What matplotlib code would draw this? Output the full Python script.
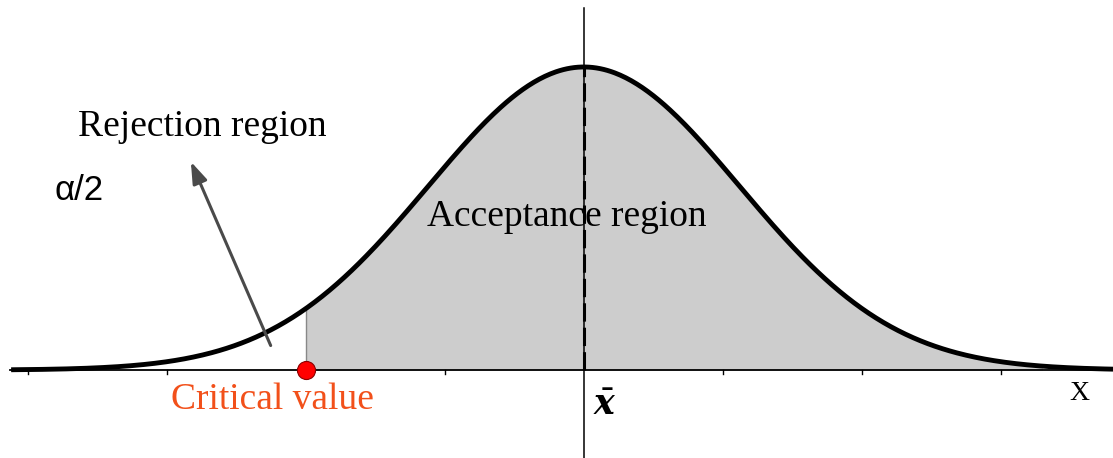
import matplotlib
matplotlib.use('Agg')
import matplotlib.pyplot as plt
import numpy as np

# distribution parameters (axis units: one tick = one unit, mean at 0)
MEAN = 0.0
SIGMA = 1.12
CRITICAL = -2.0
SHADE_END = 3.3
TICKS = [-4, -3, -2, -1, 1, 2, 3]

LABEL_REJECT = 'Rejection region'
LABEL_ALPHA = 'α/2'
LABEL_ACCEPT = 'Acceptance region'
LABEL_CRIT = 'Critical value'
LABEL_X = 'X'

plt.rcParams['mathtext.fontset'] = 'custom'
plt.rcParams['mathtext.it'] = 'DejaVu Serif:italic:bold'


def curve(x):
    return np.exp(-0.5 * ((x - MEAN) / SIGMA) ** 2)


fig = plt.figure(figsize=(11.13, 4.58), dpi=100)
ax = fig.add_axes([0, 0, 1, 1])
ax.set_xlim(-4.20, 3.806)
ax.set_ylim(-0.29, 1.221)
ax.axis('off')

xs = np.linspace(-4.12, 3.81, 600)
ax.plot(xs, curve(xs), color='black', lw=3.5, zorder=4, solid_capstyle='butt')

xf = np.linspace(CRITICAL, SHADE_END, 400)
ax.fill_between(xf, 0, curve(xf), color='#cdcdcd', lw=0, zorder=1)
ax.plot([CRITICAL, CRITICAL], [0, curve(CRITICAL)], color='#888888', lw=1, zorder=2)

# axes
ax.plot([-4.13, 3.81], [0, 0], color='black', lw=1.3, zorder=3)
ax.plot([0, 0], [-0.29, 1.195], color='black', lw=1.1, zorder=3)
ax.plot([0, 0], [0, curve(0)], color='black', lw=2.2, ls=(0, (6, 2)), zorder=3)
for t in TICKS:
    ax.plot([t, t], [0, -0.012], color='black', lw=1, zorder=3)

ax.plot([CRITICAL], [0], 'o', ms=13, mfc='#ff0000', mec='#8b0000', mew=0.8, zorder=6)

ax.annotate('', xy=(-2.835, 0.696), xytext=(-2.245, 0.0726),
            arrowprops=dict(arrowstyle='-|>,head_length=1.3,head_width=0.45',
                            color='#4a4a4a', lw=2.2), zorder=5)

ax.text(-2.748, 0.802, LABEL_REJECT, family='Liberation Serif', fontsize=27,
        ha='center', va='center')
ax.text(-3.806, 0.594, LABEL_ALPHA, family='Liberation Sans', fontsize=25,
        ha='left', va='center')
ax.text(-0.122, 0.505, LABEL_ACCEPT, family='Liberation Serif', fontsize=27,
        ha='center', va='center', zorder=5)
ax.text(-2.237, -0.099, LABEL_CRIT, family='Liberation Serif', fontsize=27,
        color='#f2501a', ha='center', va='center')
ax.text(0.151, -0.116, r'$\bar{x}$', fontsize=25, ha='center', va='center')
ax.text(3.561, -0.076, LABEL_X, family='Liberation Serif', fontsize=20,
        ha='center', va='center')

plt.savefig('out.png', dpi=100)
